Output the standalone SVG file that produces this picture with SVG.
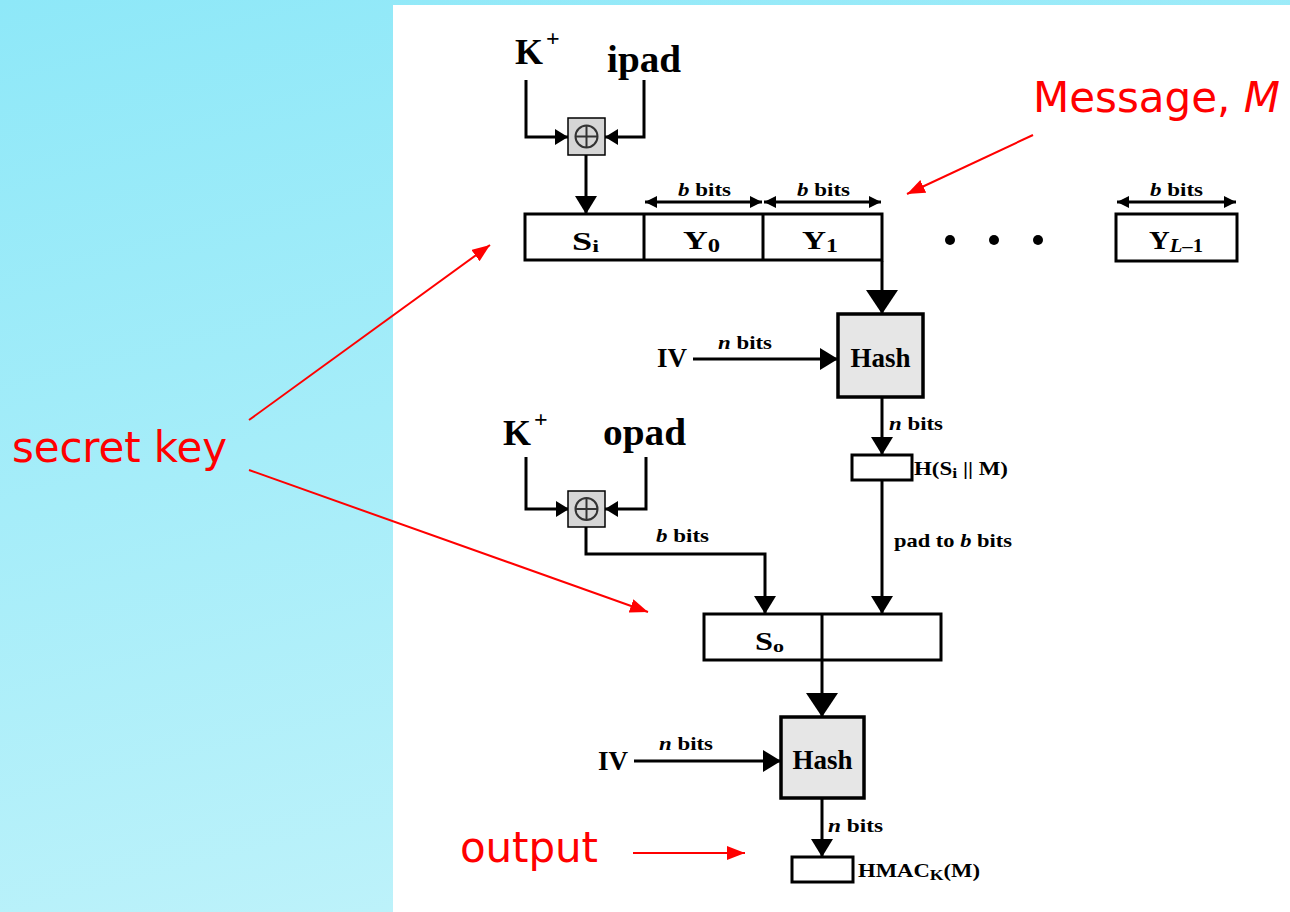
<svg xmlns="http://www.w3.org/2000/svg" width="1290" height="912" viewBox="0 0 1290 912">
<defs>
<linearGradient id="bg" x1="0" y1="0" x2="0.35" y2="1">
<stop offset="0" stop-color="#8ee8f8"/>
<stop offset="1" stop-color="#bdf2fa"/>
</linearGradient>
<marker id="aBig" markerUnits="userSpaceOnUse" markerWidth="26" markerHeight="34" refX="24" refY="16" orient="auto" viewBox="0 0 26 34"><path d="M0,0 L24,16 L0,32 Z" fill="#000"/></marker>
<marker id="aMed" markerUnits="userSpaceOnUse" markerWidth="20" markerHeight="24" refX="18" refY="11" orient="auto" viewBox="0 0 20 24"><path d="M0,0 L18,11 L0,22 Z" fill="#000"/></marker>
<marker id="aSm" markerUnits="userSpaceOnUse" markerWidth="15" markerHeight="18" refX="13" refY="8" orient="auto" viewBox="0 0 15 18"><path d="M0,0 L13,8 L0,16 Z" fill="#000"/></marker>
<marker id="aDim" markerUnits="userSpaceOnUse" markerWidth="13" markerHeight="13" refX="12" refY="6" orient="auto-start-reverse" viewBox="0 0 13 13"><path d="M0,0 L12,6 L0,12 Z" fill="#000"/></marker>
<marker id="aRed" markerUnits="userSpaceOnUse" markerWidth="20" markerHeight="16" refX="18" refY="7" orient="auto" viewBox="0 0 20 16"><path d="M0,0 L18,7 L0,14 Z" fill="#ff0000"/></marker>
</defs>
<style>
.ln{fill:none;stroke:#000;stroke-width:3}
.box{fill:#fff;stroke:#000;stroke-width:3}
.hash{fill:#e6e6e6;stroke:#000;stroke-width:3.5}
.xor{fill:#d6d6d6;stroke:#000;stroke-width:1.5}
.xs{fill:none;stroke:#333;stroke-width:2}
.t{font-family:"Liberation Serif","Times New Roman",serif;font-weight:bold;fill:#000}
.it{font-style:italic}
.red{font-family:"DejaVu Sans",Verdana,sans-serif;fill:#ff0000;font-size:42px}
.rl{fill:none;stroke:#ff0000;stroke-width:2}
.dim{fill:none;stroke:#000;stroke-width:3}
</style>
<rect x="0" y="0" width="1290" height="912" fill="url(#bg)"/>
<rect x="393" y="5" width="897" height="907" fill="#fff"/>

<g id="connectors">
<path class="ln" d="M526,80 V137 H568" marker-end="url(#aSm)"/>
<path class="ln" d="M644,80 V137 H605" marker-end="url(#aSm)"/>
<path class="ln" d="M586,155 V214" marker-end="url(#aMed)"/>
<path class="ln" d="M882,261 V314" marker-end="url(#aBig)"/>
<path class="ln" d="M693,359 H838" marker-end="url(#aMed)"/>
<path class="ln" d="M882,397 V455" marker-end="url(#aMed)"/>
<path class="ln" d="M882,480 V614" marker-end="url(#aMed)"/>
<path class="ln" d="M526,457 V509 H569" marker-end="url(#aSm)"/>
<path class="ln" d="M646,457 V509 H605" marker-end="url(#aSm)"/>
<path class="ln" d="M586,527 V554 H765 V614" marker-end="url(#aMed)"/>
<path class="ln" d="M822,660 V717" marker-end="url(#aBig)"/>
<path class="ln" d="M634,761 H781" marker-end="url(#aMed)"/>
<path class="ln" d="M822,798 V857" marker-end="url(#aMed)"/>
<path class="dim" d="M645,202 H762" marker-start="url(#aDim)" marker-end="url(#aDim)"/>
<path class="dim" d="M764,202 H881" marker-start="url(#aDim)" marker-end="url(#aDim)"/>
<path class="dim" d="M1117,202 H1236" marker-start="url(#aDim)" marker-end="url(#aDim)"/>
<path class="rl" d="M1033,135 L907,194" marker-end="url(#aRed)"/>
<path class="rl" d="M249,420 L490,245" marker-end="url(#aRed)"/>
<path class="rl" d="M249,470 L648,612" marker-end="url(#aRed)"/>
<path class="rl" d="M633,853 L745,853" marker-end="url(#aRed)"/>
</g>

<g id="key-top">
<text class="t" x="515" y="64" font-size="36">K</text>
<text class="t" x="546" y="46" font-size="24">+</text>
</g>
<g id="ipad"><text class="t" x="607" y="72" font-size="37" textLength="74" lengthAdjust="spacingAndGlyphs">ipad</text></g>
<g id="xor-top">
<rect class="xor" x="568" y="118" width="37" height="37"/>
<circle class="xs" cx="586.5" cy="136.5" r="11"/>
<path class="xs" d="M575.5,136.5 H597.5 M586.5,125.5 V147.5"/>
</g>

<g id="row-inner">
<rect class="box" x="525" y="214" width="357" height="46"/>
<path class="ln" d="M644,214 V260 M763,214 V260"/>
<text class="t" x="572" y="250" font-size="25" textLength="27" lengthAdjust="spacingAndGlyphs">S<tspan font-size="17" dy="2">i</tspan></text>
<text class="t" x="683" y="249" font-size="25" textLength="37" lengthAdjust="spacingAndGlyphs">Y<tspan font-size="18" dy="3">0</tspan></text>
<text class="t" x="802" y="249" font-size="25" textLength="36" lengthAdjust="spacingAndGlyphs">Y<tspan font-size="18" dy="3">1</tspan></text>
</g>
<g id="bbits-labels">
<text class="t" x="678" y="196" font-size="19" textLength="53" lengthAdjust="spacingAndGlyphs"><tspan class="it">b</tspan> bits</text>
<text class="t" x="797" y="196" font-size="19" textLength="53" lengthAdjust="spacingAndGlyphs"><tspan class="it">b</tspan> bits</text>
<text class="t" x="1150" y="196" font-size="19" textLength="53" lengthAdjust="spacingAndGlyphs"><tspan class="it">b</tspan> bits</text>
</g>
<g id="dots">
<circle cx="950" cy="240" r="5"/>
<circle cx="994" cy="240" r="5"/>
<circle cx="1038" cy="240" r="5"/>
</g>
<g id="yl1">
<rect class="box" x="1116" y="214" width="121" height="47"/>
<text class="t" x="1149" y="249" font-size="25" textLength="54" lengthAdjust="spacingAndGlyphs">Y<tspan class="it" font-size="18" dy="3">L</tspan><tspan font-size="18">–1</tspan></text>
</g>

<g id="iv1">
<text class="t" x="657" y="367" font-size="27">IV</text>
<text class="t" x="718" y="349" font-size="19" textLength="54" lengthAdjust="spacingAndGlyphs"><tspan class="it">n</tspan> bits</text>
</g>
<g id="hash1">
<rect class="hash" x="838" y="314" width="85" height="83"/>
<text class="t" x="880.5" y="367" font-size="27" text-anchor="middle">Hash</text>
</g>
<g id="h-inner">
<text class="t" x="889" y="430" font-size="19" textLength="54" lengthAdjust="spacingAndGlyphs"><tspan class="it">n</tspan> bits</text>
<rect class="box" x="852" y="455" width="60" height="25"/>
<text class="t" x="914" y="475" font-size="18" textLength="94" lengthAdjust="spacingAndGlyphs">H(S<tspan font-size="14" dy="3">i</tspan><tspan dy="-3"> || M)</tspan></text>
<text class="t" x="894" y="547" font-size="19" textLength="118" lengthAdjust="spacingAndGlyphs">pad to <tspan class="it">b</tspan> bits</text>
</g>

<g id="key-bottom">
<text class="t" x="503" y="445" font-size="36">K</text>
<text class="t" x="534" y="427" font-size="24">+</text>
</g>
<g id="opad"><text class="t" x="603" y="445" font-size="37" textLength="83" lengthAdjust="spacingAndGlyphs">opad</text></g>
<g id="xor-bottom">
<rect class="xor" x="568" y="491" width="37" height="36"/>
<circle class="xs" cx="586.5" cy="509" r="11"/>
<path class="xs" d="M575.5,509 H597.5 M586.5,498 V520"/>
<text class="t" x="656" y="542" font-size="19" textLength="53" lengthAdjust="spacingAndGlyphs"><tspan class="it">b</tspan> bits</text>
</g>

<g id="row-outer">
<rect class="box" x="704" y="614" width="237" height="46"/>
<path class="ln" d="M822,614 V660"/>
<text class="t" x="755" y="650" font-size="25" textLength="29" lengthAdjust="spacingAndGlyphs">S<tspan font-size="17" dy="2">o</tspan></text>
</g>

<g id="iv2">
<text class="t" x="598" y="770" font-size="27">IV</text>
<text class="t" x="659" y="750" font-size="19" textLength="54" lengthAdjust="spacingAndGlyphs"><tspan class="it">n</tspan> bits</text>
</g>
<g id="hash2">
<rect class="hash" x="781" y="717" width="83" height="81"/>
<text class="t" x="822.5" y="769" font-size="27" text-anchor="middle">Hash</text>
</g>
<g id="hmac">
<text class="t" x="828" y="832" font-size="19" textLength="55" lengthAdjust="spacingAndGlyphs"><tspan class="it">n</tspan> bits</text>
<rect class="box" x="792" y="857" width="61" height="25"/>
<text class="t" x="858" y="877" font-size="18" textLength="122" lengthAdjust="spacingAndGlyphs">HMAC<tspan font-size="14" dy="3">K</tspan><tspan dy="-3">(M)</tspan></text>
</g>

<g id="annotations">
<text class="red" x="1033" y="112">Message, <tspan font-style="italic">M</tspan></text>
<text class="red" x="12" y="462" textLength="215">secret key</text>
<text class="red" x="460" y="862" textLength="138">output</text>
</g>
</svg>
